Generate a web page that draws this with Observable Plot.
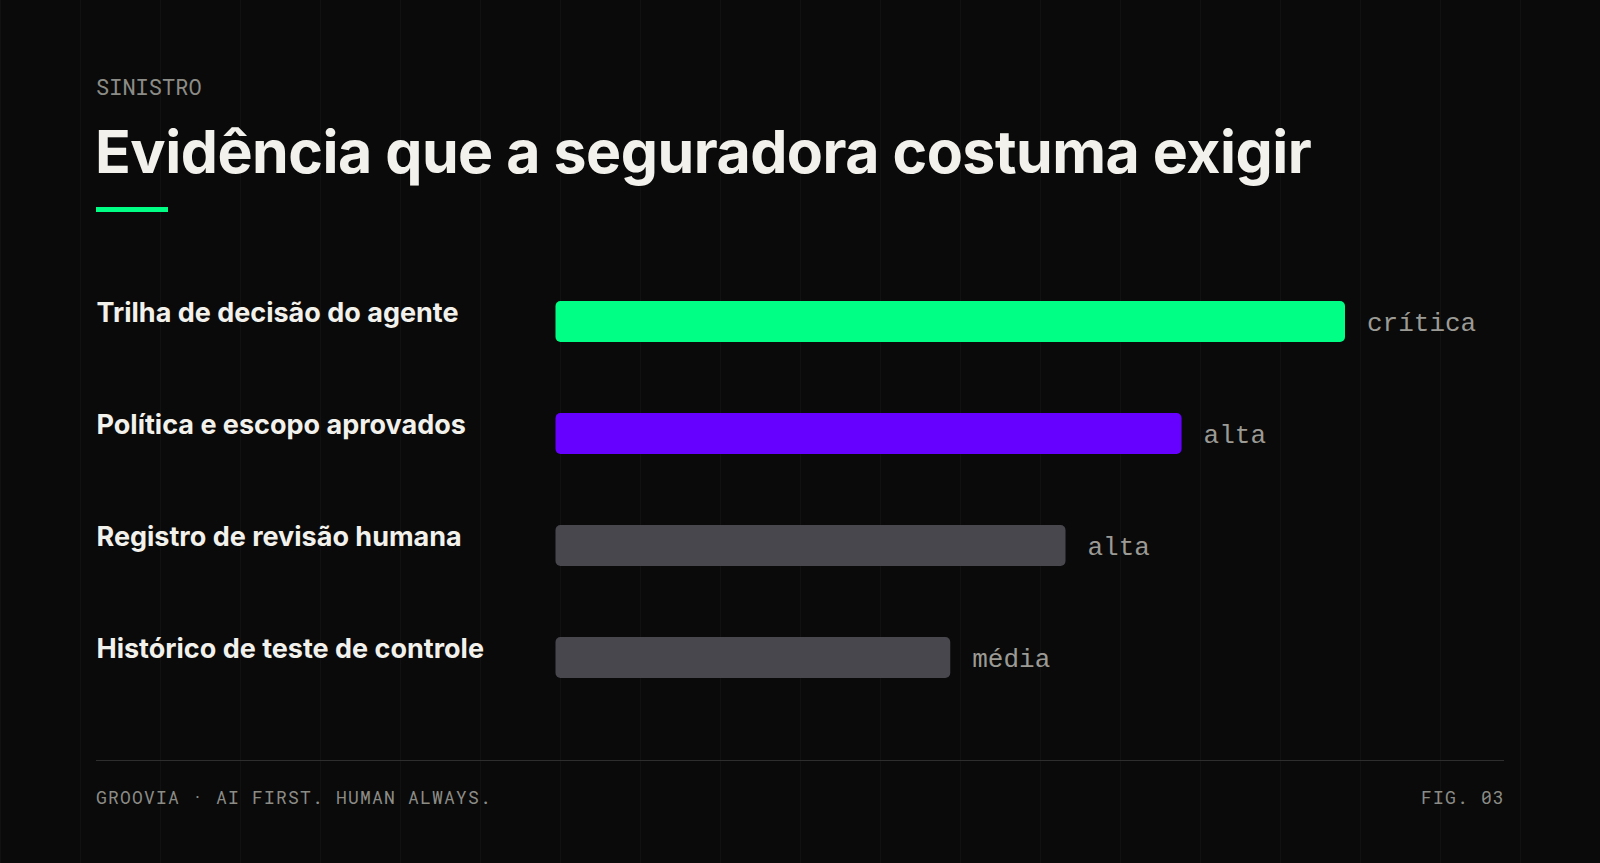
<!DOCTYPE html>
<html lang="pt">
<head>
<meta charset="utf-8">
<script src="https://cdn.jsdelivr.net/npm/d3@7"></script>
<script src="https://cdn.jsdelivr.net/npm/@observablehq/plot@0.6"></script>
<style>
  html, body { margin: 0; padding: 0; }
  body {
    width: 1600px; height: 863px; overflow: hidden; position: relative;
    background-color: #0a0a0a;
    background-image: linear-gradient(to right, rgba(255,255,255,0.028) 1px, transparent 1px);
    background-size: 80px 100%;
    color: #f2f1ec;
  }
  .abs { position: absolute; white-space: nowrap; }
  #kicker { left: 96px; top: 76px; font-family: "Roboto Mono", monospace; font-size: 22px; color: #8c8c87; line-height: 1; }
  #title { left: 95px; top: 122px; font-family: Inter, sans-serif; font-weight: 700; font-size: 59px; letter-spacing: -0.5px; color: #f2f1ec; line-height: 1; }
  #accent { left: 96px; top: 207px; width: 72px; height: 5px; background: #00ff85; }
  #chart { left: 0; top: 265px; }
  #rule { left: 96px; top: 760px; width: 1408px; height: 1px; background: #2e2e2e; }
  .foot { top: 788px; font-family: "Roboto Mono", monospace; font-size: 18px; letter-spacing: 1.2px; color: #8c8c87; line-height: 1; }
  #footL { left: 96px; }
  #footR { right: 95px; }
</style>
</head>
<body>
<div id="kicker" class="abs">SINISTRO</div>
<div id="title" class="abs">Evidência que a seguradora costuma exigir</div>
<div id="accent" class="abs"></div>
<div id="chart" class="abs"></div>
<div id="rule" class="abs"></div>
<div id="footL" class="abs foot">GROOVIA · AI FIRST. HUMAN ALWAYS.</div>
<div id="footR" class="abs foot">FIG. 03</div>
<script>
// Data
const items = [
  "Trilha de decisão do agente",
  "Política e escopo aprovados",
  "Registro de revisão humana",
  "Histórico de teste de controle"
];
const scores = [100, 79.3, 64.6, 50];
const levels = ["crítica", "alta", "alta", "média"];
const colors = ["#00ff85", "#6600ff", "#48474d", "#48474d"];

const data = items.map((item, i) => ({item, score: scores[i], level: levels[i], color: colors[i]}));

const chart = Plot.plot({
  width: 1600,
  height: 448.5,
  marginTop: 0.5,
  marginBottom: 0,
  marginLeft: 555.5,
  marginRight: 255,
  style: {background: "transparent", overflow: "visible"},
  x: {domain: [0, 100], axis: null},
  y: {domain: items, axis: null, paddingInner: 0.634, paddingOuter: 0.317},
  marks: [
    Plot.barX(data, {x: "score", y: "item", fill: "color", rx: 5}),
    Plot.text(data, {
      y: "item", text: "item", frameAnchor: "left", textAnchor: "start",
      dx: -459.5, dy: -8.5, lineAnchor: "middle",
      fontFamily: "Inter, sans-serif", fontWeight: 700, fontSize: 27, fill: "#f2f1ec"
    }),
    Plot.text(data, {
      x: "score", y: "item", text: "level", textAnchor: "start",
      dx: 21.5, dy: 1, lineAnchor: "middle",
      fontFamily: "Liberation Mono, monospace", fontSize: 26, fill: "#9b9a95"
    })
  ]
});
document.getElementById("chart").appendChild(chart);
</script>
</body>
</html>
